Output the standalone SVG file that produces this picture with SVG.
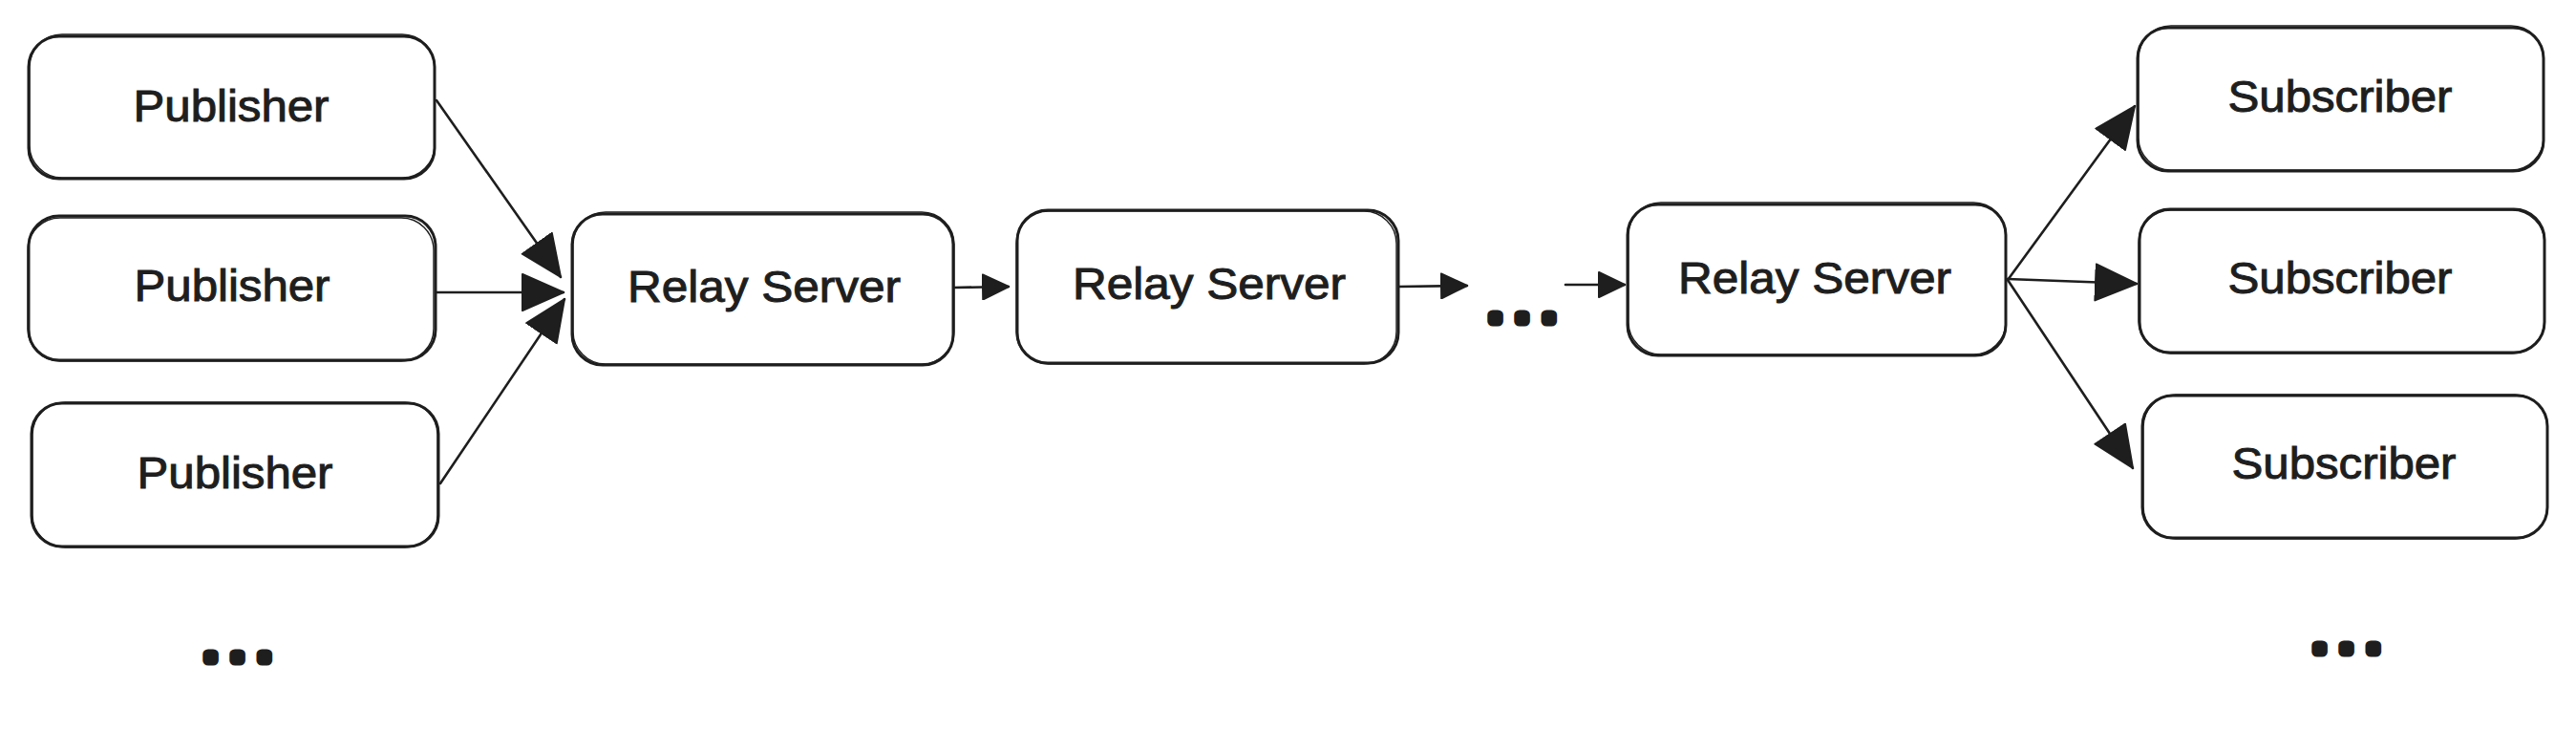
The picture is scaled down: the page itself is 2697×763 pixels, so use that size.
<svg xmlns="http://www.w3.org/2000/svg" width="2697" height="763" viewBox="0 0 2697 763">
<style>
.box{fill:#ffffff;stroke:#1e1e1e;stroke-width:3;stroke-linejoin:round}
.box2{fill:none;stroke:#1e1e1e;stroke-width:1.4;stroke-linejoin:round}
.lbl{font-family:"Liberation Sans","Lato",sans-serif;font-size:46px;fill:#1e1e1e;stroke:#1e1e1e;stroke-width:1;text-anchor:middle}
.dots{font-family:"Liberation Sans",sans-serif;font-weight:bold;font-size:40px;letter-spacing:17px;fill:#1e1e1e;stroke:#1e1e1e;stroke-width:11;stroke-linejoin:round}
.conn{fill:none;stroke:#1e1e1e;stroke-width:2.6;stroke-linecap:round}
</style>
<defs>
<marker id="big" markerUnits="userSpaceOnUse" viewBox="0 0 46 42" markerWidth="46" markerHeight="42" refX="44" refY="20" orient="auto">
<path d="M1,1 L44,20 L1,39 Z" fill="#1e1e1e" stroke="#1e1e1e" stroke-width="2" stroke-linejoin="round"/>
</marker>
<marker id="small" markerUnits="userSpaceOnUse" viewBox="0 0 30 28" markerWidth="30" markerHeight="28" refX="28" refY="14" orient="auto">
<path d="M1,1 L28,14 L1,27 Z" fill="#1e1e1e" stroke="#1e1e1e" stroke-width="2" stroke-linejoin="round"/>
</marker>
</defs>
<rect width="2697" height="763" fill="#ffffff"/>

<g id="connectors">
<line class="conn" x1="457" y1="105" x2="587" y2="290" marker-end="url(#big)"/>
<line class="conn" x1="456" y1="306" x2="590" y2="306" marker-end="url(#big)"/>
<line class="conn" x1="461" y1="506" x2="591" y2="313" marker-end="url(#big)"/>
<line class="conn" x1="998" y1="301" x2="1056" y2="300" marker-end="url(#small)"/>
<line class="conn" x1="1464" y1="300" x2="1536" y2="299" marker-end="url(#small)"/>
<line class="conn" x1="1639" y1="298" x2="1701" y2="298" marker-end="url(#small)"/>
<line class="conn" x1="2102" y1="293" x2="2235" y2="111" marker-end="url(#big)"/>
<line class="conn" x1="2102" y1="292" x2="2237" y2="297" marker-end="url(#big)"/>
<line class="conn" x1="2102" y1="293" x2="2233" y2="490" marker-end="url(#big)"/>
</g>

<g id="publisher-1">
<rect class="box" x="30" y="38" width="425" height="149" rx="32"/>
<rect class="box2" x="31" y="36" width="424" height="150" rx="34"/>
<text class="lbl" x="242" y="127" textLength="205" lengthAdjust="spacingAndGlyphs">Publisher</text>
</g>
<g id="publisher-2">
<rect class="box" x="30" y="226" width="426" height="151" rx="32"/>
<rect class="box2" x="29" y="228" width="425" height="150" rx="34"/>
<text class="lbl" x="243" y="315" textLength="205" lengthAdjust="spacingAndGlyphs">Publisher</text>
</g>
<g id="publisher-3">
<rect class="box" x="33" y="422" width="426" height="150" rx="32"/>
<rect class="box2" x="34" y="421" width="424" height="152" rx="34"/>
<text class="lbl" x="246" y="511" textLength="205" lengthAdjust="spacingAndGlyphs">Publisher</text>
</g>

<g id="relay-1">
<rect class="box" x="599" y="224" width="399" height="158" rx="32"/>
<rect class="box2" x="600" y="222" width="399" height="159" rx="34"/>
<text class="lbl" x="800" y="316" textLength="286" lengthAdjust="spacingAndGlyphs">Relay Server</text>
</g>
<g id="relay-2">
<rect class="box" x="1065" y="220" width="399" height="160" rx="32"/>
<rect class="box2" x="1064" y="221" width="398" height="160" rx="34"/>
<text class="lbl" x="1266" y="313" textLength="286" lengthAdjust="spacingAndGlyphs">Relay Server</text>
</g>
<g id="ellipsis-middle">
<text class="dots" x="1560" y="336">...</text>
</g>
<g id="relay-3">
<rect class="box" x="1704" y="214" width="396" height="158" rx="32"/>
<rect class="box2" x="1705" y="212" width="395" height="159" rx="34"/>
<text class="lbl" x="1900" y="307" textLength="286" lengthAdjust="spacingAndGlyphs">Relay Server</text>
</g>

<g id="subscriber-1">
<rect class="box" x="2238" y="29" width="425" height="150" rx="32"/>
<rect class="box2" x="2239" y="27" width="424" height="151" rx="34"/>
<text class="lbl" x="2450" y="117" textLength="235" lengthAdjust="spacingAndGlyphs">Subscriber</text>
</g>
<g id="subscriber-2">
<rect class="box" x="2240" y="219" width="424" height="150" rx="32"/>
<rect class="box2" x="2239" y="220" width="425" height="150" rx="34"/>
<text class="lbl" x="2450" y="307" textLength="235" lengthAdjust="spacingAndGlyphs">Subscriber</text>
</g>
<g id="subscriber-3">
<rect class="box" x="2243" y="414" width="424" height="149" rx="32"/>
<rect class="box2" x="2244" y="413" width="423" height="151" rx="34"/>
<text class="lbl" x="2454" y="501" textLength="235" lengthAdjust="spacingAndGlyphs">Subscriber</text>
</g>

<g id="ellipsis-publishers">
<text class="dots" x="215" y="691">...</text>
</g>
<g id="ellipsis-subscribers">
<text class="dots" x="2423" y="682">...</text>
</g>
</svg>
